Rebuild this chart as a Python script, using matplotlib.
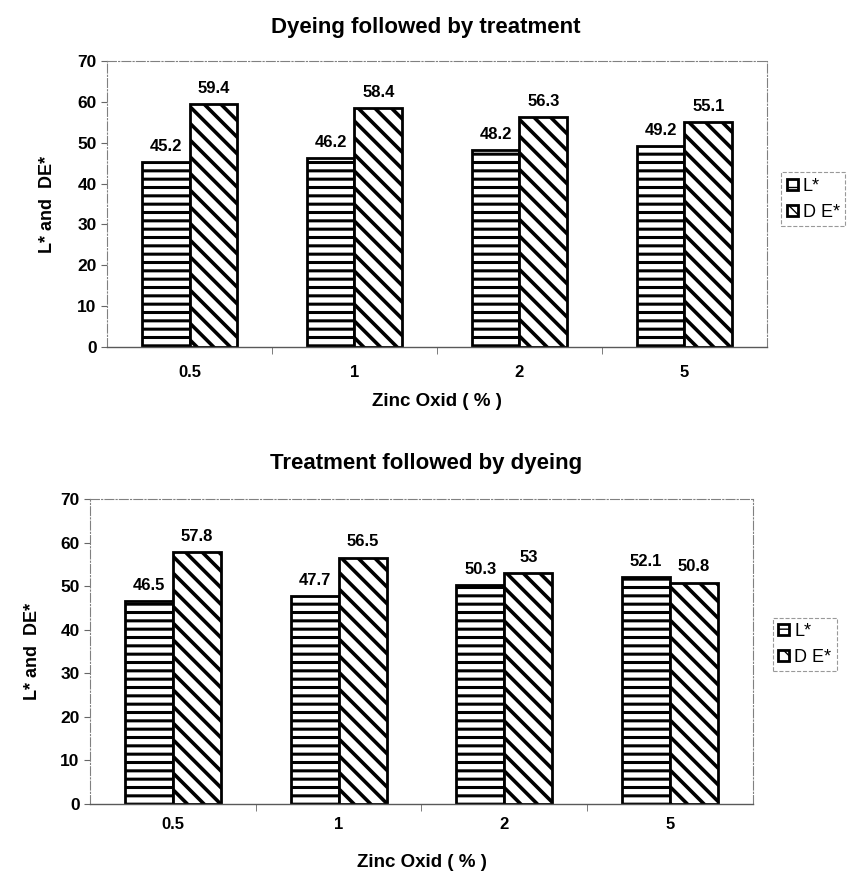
import numpy as np
import matplotlib
matplotlib.use("Agg")
import matplotlib.pyplot as plt

plt.rcParams['font.family'] = ['Liberation Sans', 'DejaVu Sans']

# zinc oxide concentration (%) and colour measurements
zinc = ["0.5", "1", "2", "5"]
L_dyeing_first = [45.2, 46.2, 48.2, 49.2]
DE_dyeing_first = [59.4, 58.4, 56.3, 55.1]
L_treat_first = [46.5, 47.7, 50.3, 52.1]
DE_treat_first = [57.8, 56.5, 53, 50.8]

fig = plt.figure(figsize=(8.52, 8.71), dpi=100)
ax1 = fig.add_axes([0.1256, 0.6016, 0.7746, 0.3284])
ax2 = fig.add_axes([0.1056, 0.0769, 0.7782, 0.3502])

x = np.arange(len(zinc))
w = 0.29


def draw(ax, L, DE, title, title_y, label_pad, xlab_pad, legend_xy, ylab_x):
    with plt.rc_context({'hatch.linewidth': 2.2}):
        b1 = ax.bar(x - w / 2, L, w, color='white', edgecolor='black',
                    linewidth=2.0, hatch='--', label='L*')
    with plt.rc_context({'hatch.linewidth': 2.6}):
        b2 = ax.bar(x + w / 2, DE, w, color='white', edgecolor='black',
                    linewidth=2.0, hatch='\\\\', label='D E*')

    for bars, vals in ((b1, L), (b2, DE)):
        for r, v in zip(bars, vals):
            ax.annotate(f"{v:g}", (r.get_x() + r.get_width() / 2, v),
                        xytext=(0, 6), textcoords='offset points',
                        ha='center', va='bottom', fontsize=12,
                        fontweight='bold')

    ax.set_xlim(-0.5, len(zinc) - 0.5)
    ax.set_ylim(0, 70)
    ax.set_yticks(np.arange(0, 71, 10))
    ax.set_xticks(x)
    ax.set_xticklabels(zinc, fontsize=12, fontweight='bold')
    ax.set_xticks(np.arange(0.5, len(zinc) - 0.5), minor=True)
    ax.tick_params(axis='x', which='major', length=0, pad=label_pad)
    ax.tick_params(axis='x', which='minor', length=5, color='0.4')
    ax.tick_params(axis='y', length=4, color='0.4', labelsize=12.5)
    for t in ax.get_yticklabels():
        t.set_fontweight('bold')

    for side in ('left', 'top', 'right'):
        ax.spines[side].set_color('0.5')
        ax.spines[side].set_linewidth(0.8)
        ax.spines[side].set_linestyle((0, (8, 2, 1, 2)))
    ax.spines['bottom'].set_color('0.35')
    ax.spines['bottom'].set_linewidth(1.0)

    ax.set_ylabel("L* and  DE*", fontsize=13, fontweight='bold')
    ax.yaxis.set_label_coords(ylab_x, 0.5)
    ax.set_xlabel("Zinc Oxid ( % )", fontsize=13.5, fontweight='bold',
                  labelpad=xlab_pad)

    fig.text(0.5, title_y, title, ha='center', va='center', fontsize=16,
             fontweight='bold')

    leg = ax.legend(loc='upper left', bbox_to_anchor=legend_xy,
                    bbox_transform=fig.transFigure, fontsize=13,
                    frameon=True, fancybox=False, handlelength=0.6,
                    handleheight=0.6, handletextpad=0.3, borderpad=0.3,
                    labelspacing=0.5, borderaxespad=0)
    fr = leg.get_frame()
    fr.set_edgecolor('0.5')
    fr.set_linestyle('--')
    fr.set_linewidth(0.8)


draw(ax1, L_dyeing_first, DE_dyeing_first, "Dyeing followed by treatment",
     0.968, 13, 9, (0.917, 0.802), -0.077)
draw(ax2, L_treat_first, DE_treat_first, "Treatment followed by dyeing",
     0.468, 9, 16, (0.907, 0.291), -0.074)

fig.savefig("out.png", dpi=100)
